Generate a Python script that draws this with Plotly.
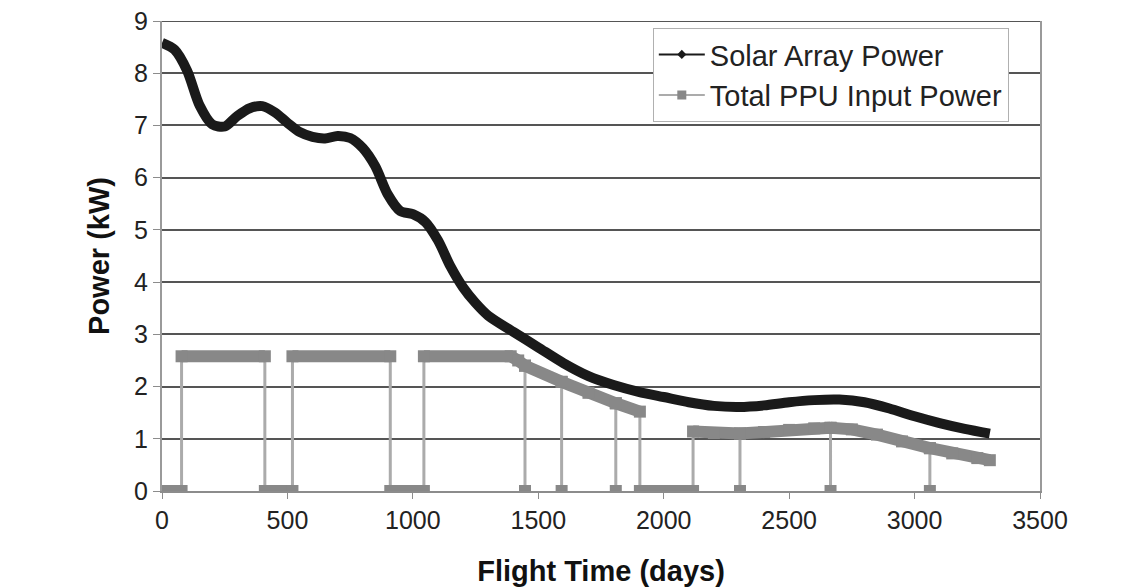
import plotly.graph_objects as go

# ---- data ----
solar_days = [0, 50, 100, 150, 200, 250, 300, 350, 400, 450, 500, 550, 600, 650, 700,
              750, 800, 850, 900, 950, 1000, 1050, 1100, 1150, 1200, 1250, 1300, 1400,
              1500, 1600, 1700, 1800, 1900, 2000, 2100, 2200, 2300, 2400, 2500, 2600,
              2700, 2800, 2900, 3000, 3100, 3200, 3300]
solar_kw = [8.58, 8.45, 8.05, 7.38, 7.02, 6.98, 7.18, 7.33, 7.37, 7.25, 7.05, 6.87, 6.78,
            6.75, 6.8, 6.76, 6.57, 6.22, 5.68, 5.36, 5.3, 5.15, 4.8, 4.3, 3.9, 3.6, 3.36,
            3.05, 2.75, 2.45, 2.2, 2.03, 1.9, 1.8, 1.7, 1.63, 1.61, 1.64, 1.7, 1.74, 1.75,
            1.7, 1.58, 1.43, 1.3, 1.19, 1.1]

ppu_days = [0, 78, 78, 410, 410, 520, 520, 910, 910, 1044, 1044, 1390, 1420, 1447, 1447,
            1447, 1593, 1593, 1593, 1700, 1809, 1809, 1809, 1905, 1905, 2117, 2117, 2200,
            2304, 2304, 2304, 2400, 2500, 2600, 2665, 2665, 2665, 2750, 2850, 2950, 3061,
            3061, 3061, 3150, 3250, 3300]
ppu_kw = [0, 0, 2.58, 2.58, 0, 0, 2.58, 2.58, 0, 0, 2.58, 2.58, 2.5, 2.40, 0,
          2.40, 2.09, 0, 2.09, 1.88, 1.68, 0, 1.68, 1.52, 0, 0, 1.14, 1.11,
          1.10, 0, 1.10, 1.13, 1.17, 1.20, 1.21, 0, 1.21, 1.18, 1.08, 0.95, 0.82,
          0, 0.82, 0.72, 0.63, 0.59]

x_ticks = [0, 500, 1000, 1500, 2000, 2500, 3000, 3500]
y_ticks = [0, 1, 2, 3, 4, 5, 6, 7, 8, 9]

FONT = "Liberation Sans"
GRAY = "#888888"
LIGHT = "#ababab"

# split PPU sequence into dense runs (break at vertical jumps)
run_x, run_y = [], []
for i, (d, v) in enumerate(zip(ppu_days, ppu_kw)):
    if i > 0 and d == ppu_days[i - 1]:
        run_x.append(None)
        run_y.append(None)
    run_x.append(d)
    run_y.append(v)

fig = go.Figure()

# thin connecting line of PPU
fig.add_trace(go.Scatter(x=ppu_days, y=ppu_kw, mode="lines",
                         line=dict(color=LIGHT, width=3),
                         showlegend=False, hoverinfo="skip"))
# thick dense bands of PPU
fig.add_trace(go.Scatter(x=run_x, y=run_y, mode="lines+markers",
                         line=dict(color=GRAY, width=12),
                         marker=dict(symbol="square", size=12, color=GRAY),
                         showlegend=False, connectgaps=False))
# solar array power
fig.add_trace(go.Scatter(x=solar_days, y=solar_kw, mode="lines",
                         line=dict(color="#1a1a1a", width=10, shape="spline", smoothing=0.8),
                         showlegend=False))

# legend entries
fig.add_trace(go.Scatter(x=[None], y=[None], mode="lines+markers", name="Solar Array Power",
                         line=dict(color="#1a1a1a", width=2),
                         marker=dict(symbol="diamond", size=7, color="#1a1a1a")))
fig.add_trace(go.Scatter(x=[None], y=[None], mode="lines+markers", name="Total PPU Input Power",
                         line=dict(color=LIGHT, width=2),
                         marker=dict(symbol="square", size=9, color=GRAY)))

# top frame line coinciding with the highest gridline
fig.add_shape(type="line", xref="paper", x0=0, x1=1, yref="y", y0=y_ticks[-1], y1=y_ticks[-1],
              line=dict(color="#555555", width=2), layer="below")

fig.update_layout(
    width=1146, height=588,
    margin=dict(l=162, r=106, t=21, b=97),
    paper_bgcolor="white", plot_bgcolor="white",
    font=dict(family=FONT, size=25, color="#222"),
    legend=dict(x=0.559, y=0.985, xanchor="left", yanchor="top",
                bgcolor="white", bordercolor="#b0b0b0", borderwidth=1,
                font=dict(family=FONT, size=29, color="#222"),
                itemwidth=46, tracegroupgap=0),
    xaxis=dict(range=[0, 3500], tickvals=x_ticks, ticktext=[str(t) for t in x_ticks],
               showgrid=False, zeroline=False, showline=True, linecolor="#8c8c8c",
               linewidth=2, ticks="outside", ticklen=6, tickcolor="#8c8c8c",
               tickfont=dict(family=FONT, size=25, color="#222"), automargin=False,
               title=dict(text="<b>Flight Time (days)</b>", standoff=28,
                          font=dict(family=FONT, size=29, color="#111"))),
    yaxis=dict(range=[0, 9], tickvals=y_ticks, ticktext=[str(t) for t in y_ticks],
               showgrid=True, gridcolor="#555555", gridwidth=2, zeroline=False,
               showline=True, linecolor="#9a9a9a", linewidth=2, mirror=True,
               ticks="outside", ticklen=7, tickcolor="#8c8c8c", automargin=False,
               tickfont=dict(family=FONT, size=25, color="#222"),
               title=dict(text="<b>Power (kW)</b>", standoff=16,
                          font=dict(family=FONT, size=29, color="#111"))),
)

fig.write_html("out.html")
